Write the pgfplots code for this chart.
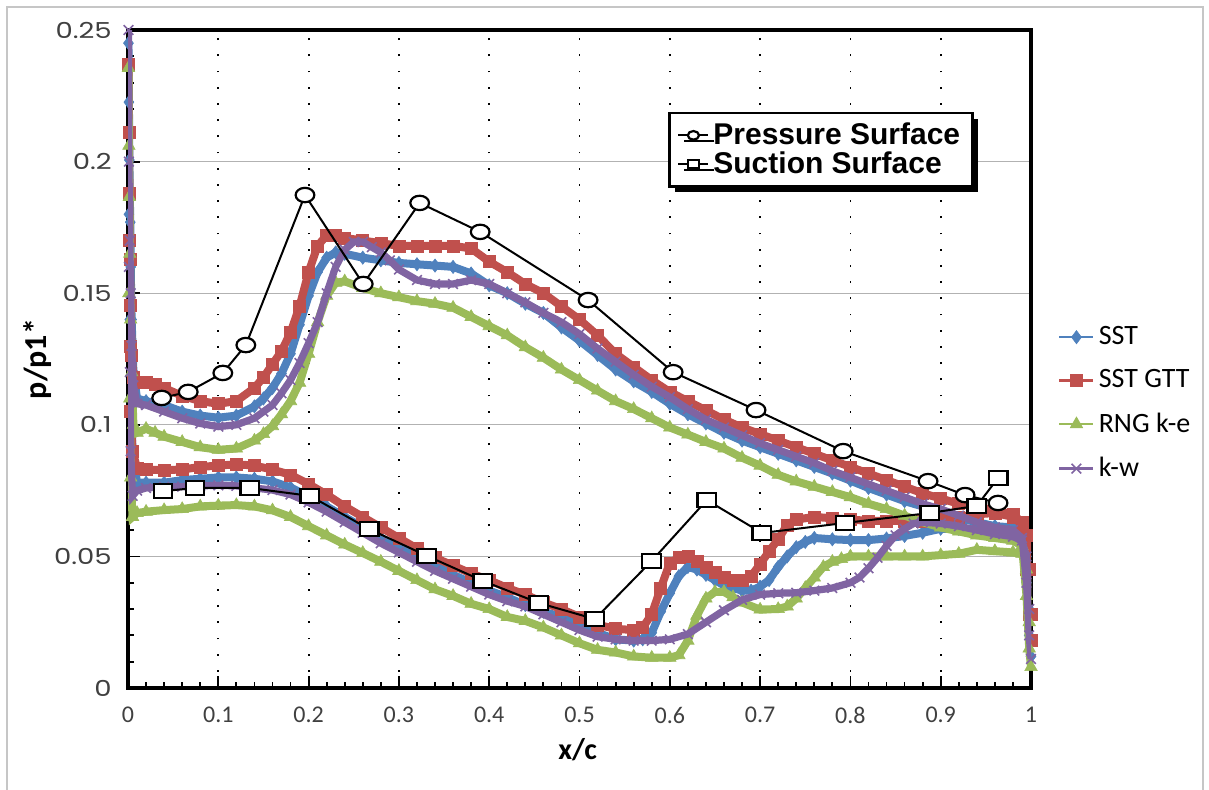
\documentclass[border=0pt]{standalone}
\usepackage{fontspec}
\setmainfont{Carlito}
\newfontfamily\helv{Liberation Sans}
\newfontfamily\poppins{Poppins}
\usepackage{pgfplots}
\pgfplotsset{compat=1.18}
\usetikzlibrary{shadows}
\definecolor{cSST}{HTML}{4F81BD}
\definecolor{cGTT}{HTML}{C0504D}
\definecolor{cRNG}{HTML}{9BBB59}
\definecolor{cKW}{HTML}{8064A2}
\begin{document}
\begin{tikzpicture}
\useasboundingbox (0pt,0pt) rectangle (604.5pt,394.5pt);
\draw[gray!45, line width=0.8pt] (3.5pt,-10pt) -- (3.5pt,391pt) -- (601.5pt,391pt) -- (601.5pt,-10pt);
\begin{axis}[
  at={(64pt,50.5pt)}, anchor=south west, scale only axis,
  width=451.5pt, height=329pt,
  xmin=0, xmax=1, ymin=0, ymax=0.25,
  xtick={0,0.1,0.2,0.3,0.4,0.5,0.6,0.7,0.8,0.9,1},
  xticklabels={0,0.1,0.2,0.3,0.4,0.5,0.6,0.7,0.8,0.9,1},
  ytick={0,0.05,0.1,0.15,0.2,0.25},
  yticklabels={0,0.05,0.1,0.15,0.2,0.25},
  minor x tick num=4, minor y tick num=4,
  xtick pos=bottom, ytick pos=left,
  tick align=inside,
  major tick length=6pt, minor tick length=3pt,
  tick style={black, line width=0.9pt},
  xmajorgrids, ymajorgrids,
  x grid style={black, line width=0.9pt, dash pattern=on 0.9pt off 7.2pt},
  y grid style={gray!60, line width=0.6pt},
  axis line style={black, line width=1.6pt},
  xticklabel style={font=\fontsize{12}{12}\selectfont, text=black!75, yshift=-6pt},
  yticklabel style={font=\poppins\fontsize{11}{11}\selectfont, text=black!75, xscale=1.25, xshift=-3pt},
  xlabel={\textbf{x/c}}, ylabel={\textbf{p/p1*}},
  xlabel style={at={(axis description cs:0.498,-0.094)}, anchor=center, font=\fontsize{15}{15}\selectfont},
  ylabel style={at={(axis description cs:-0.0997,0.5)}, anchor=center, font=\fontsize{16}{16}\selectfont},
  clip mode=individual,
  legend style={at={(1.023,0.562)}, anchor=north west, draw=none, fill=none,
    font=\fontsize{14}{14}\selectfont, row sep=7pt, cells={anchor=west}},
  legend image code/.code={\draw[mark repeat=2,mark phase=2,#1,line width=1.3pt] plot coordinates {(0pt,0pt)(8.5pt,0pt)(17pt,0pt)};},
]
% SST
\addplot[cSST, line width=4pt, mark=diamond*, mark size=3.3pt, mark options={solid, fill=cSST, line width=0.3pt}] coordinates {
(0.0005,0.245)(0.001,0.2226)(0.0015,0.2006)(0.002,0.187)(0.0025,0.177)(0.003,0.16)(0.004,0.14)(0.006,0.12)(0.01,0.110)(0.02,0.109)(0.04,0.1075)(0.06,0.105)(0.08,0.1035)(0.10,0.1027)(0.12,0.1035)(0.14,0.107)(0.15,0.110)(0.16,0.114)(0.17,0.1195)(0.18,0.127)(0.19,0.138)(0.20,0.149)(0.21,0.158)(0.22,0.1635)(0.23,0.1655)(0.24,0.165)(0.26,0.1635)(0.28,0.1625)(0.30,0.1615)(0.32,0.161)(0.34,0.1605)(0.36,0.160)(0.38,0.1575)(0.40,0.153)(0.42,0.150)(0.44,0.146)(0.46,0.1425)(0.48,0.137)(0.50,0.132)(0.52,0.1265)(0.54,0.121)(0.56,0.1165)(0.58,0.1125)(0.60,0.108)(0.62,0.104)(0.64,0.1005)(0.66,0.097)(0.68,0.094)(0.70,0.0915)(0.72,0.089)(0.74,0.0865)(0.76,0.084)(0.78,0.0815)(0.80,0.0788)(0.82,0.076)(0.84,0.0735)(0.86,0.071)(0.88,0.069)(0.90,0.067)(0.92,0.0645)(0.94,0.063)(0.96,0.0615)(0.98,0.061)(0.99,0.058)(0.995,0.04)(0.998,0.02)(1.0,0.012)
(0.998,0.03)(0.995,0.05)(0.99,0.057)(0.98,0.058)(0.96,0.059)(0.94,0.060)(0.92,0.0605)(0.90,0.0605)(0.88,0.059)(0.86,0.0578)(0.84,0.0568)(0.82,0.0562)(0.80,0.0562)(0.78,0.0565)(0.76,0.057)(0.75,0.0555)(0.74,0.0535)(0.73,0.050)(0.72,0.046)(0.71,0.041)(0.70,0.0385)(0.69,0.037)(0.68,0.037)(0.67,0.038)(0.66,0.039)(0.65,0.041)(0.64,0.043)(0.63,0.045)(0.62,0.046)(0.61,0.0425)(0.60,0.036)(0.59,0.029)(0.58,0.021)(0.57,0.0185)(0.56,0.018)(0.54,0.0185)(0.52,0.021)(0.50,0.0235)(0.48,0.027)(0.46,0.029)(0.44,0.0315)(0.42,0.0345)(0.40,0.037)(0.38,0.040)(0.36,0.043)(0.34,0.0465)(0.32,0.050)(0.30,0.0535)(0.28,0.057)(0.26,0.061)(0.24,0.065)(0.22,0.069)(0.20,0.0728)(0.18,0.0762)(0.16,0.0785)(0.14,0.0795)(0.12,0.080)(0.10,0.080)(0.08,0.0795)(0.06,0.079)(0.04,0.078)(0.02,0.078)(0.01,0.078)(0.005,0.09)(0.003,0.11)(0.002,0.14)(0.001,0.18)
};
\addlegendentry{SST}
% SST GTT
\addplot[cGTT, line width=4pt, mark=square*, mark size=3pt, mark options={solid, fill=cGTT, line width=0.3pt}] coordinates {
(0.0005,0.237)(0.001,0.211)(0.0015,0.188)(0.002,0.163)(0.003,0.1455)(0.004,0.1265)(0.006,0.118)(0.01,0.116)(0.02,0.116)(0.03,0.1155)(0.04,0.114)(0.06,0.111)(0.08,0.109)(0.10,0.108)(0.12,0.109)(0.14,0.114)(0.15,0.118)(0.16,0.123)(0.17,0.128)(0.18,0.135)(0.19,0.145)(0.20,0.158)(0.21,0.168)(0.22,0.172)(0.23,0.172)(0.24,0.171)(0.26,0.170)(0.28,0.169)(0.30,0.168)(0.32,0.168)(0.34,0.168)(0.36,0.168)(0.38,0.167)(0.40,0.162)(0.42,0.158)(0.44,0.1535)(0.46,0.150)(0.48,0.145)(0.50,0.140)(0.52,0.134)(0.54,0.127)(0.56,0.122)(0.58,0.117)(0.60,0.1125)(0.62,0.109)(0.64,0.1055)(0.66,0.102)(0.68,0.099)(0.70,0.0965)(0.72,0.094)(0.74,0.0915)(0.76,0.089)(0.78,0.0865)(0.80,0.084)(0.82,0.0815)(0.84,0.079)(0.86,0.0765)(0.88,0.074)(0.90,0.072)(0.92,0.070)(0.94,0.069)(0.96,0.0675)(0.98,0.066)(0.99,0.063)(0.995,0.045)(0.998,0.028)(1.0,0.018)
(1.0,0.028)(0.998,0.045)(0.995,0.058)(0.99,0.062)(0.98,0.065)(0.96,0.0665)(0.94,0.066)(0.92,0.065)(0.90,0.064)(0.88,0.0635)(0.86,0.0635)(0.84,0.0635)(0.82,0.0635)(0.80,0.064)(0.78,0.0645)(0.76,0.065)(0.74,0.064)(0.73,0.062)(0.72,0.0565)(0.71,0.052)(0.70,0.047)(0.69,0.0425)(0.68,0.041)(0.67,0.041)(0.66,0.042)(0.65,0.044)(0.64,0.046)(0.63,0.048)(0.62,0.050)(0.61,0.0495)(0.60,0.0475)(0.59,0.038)(0.58,0.028)(0.57,0.023)(0.56,0.022)(0.54,0.0225)(0.52,0.024)(0.50,0.027)(0.48,0.030)(0.46,0.0325)(0.44,0.0355)(0.42,0.038)(0.40,0.041)(0.38,0.0435)(0.36,0.0465)(0.34,0.0495)(0.32,0.053)(0.30,0.057)(0.28,0.061)(0.26,0.065)(0.24,0.069)(0.22,0.0735)(0.20,0.0775)(0.18,0.081)(0.16,0.083)(0.14,0.0845)(0.12,0.085)(0.10,0.0845)(0.08,0.084)(0.06,0.083)(0.04,0.0828)(0.02,0.083)(0.01,0.0835)(0.005,0.09)(0.003,0.105)(0.002,0.13)(0.001,0.17)
};
\addlegendentry{SST GTT}
% RNG k-e
\addplot[cRNG, line width=4pt, mark=triangle*, mark size=3.6pt, mark options={solid, fill=cRNG, line width=0.3pt}] coordinates {
(0.0005,0.2356)(0.001,0.206)(0.0015,0.1866)(0.002,0.165)(0.003,0.14)(0.004,0.12)(0.006,0.10)(0.01,0.097)(0.02,0.0985)(0.03,0.097)(0.04,0.0955)(0.06,0.0935)(0.08,0.0915)(0.10,0.0905)(0.12,0.091)(0.14,0.094)(0.15,0.0965)(0.16,0.0995)(0.17,0.104)(0.18,0.109)(0.19,0.116)(0.20,0.127)(0.21,0.139)(0.22,0.149)(0.23,0.154)(0.24,0.1545)(0.26,0.152)(0.28,0.150)(0.30,0.1485)(0.32,0.147)(0.34,0.146)(0.36,0.1445)(0.38,0.141)(0.40,0.1375)(0.42,0.134)(0.44,0.1295)(0.46,0.1255)(0.48,0.121)(0.50,0.117)(0.52,0.113)(0.54,0.109)(0.56,0.106)(0.58,0.1025)(0.60,0.099)(0.62,0.0963)(0.64,0.0935)(0.66,0.091)(0.68,0.0875)(0.70,0.0845)(0.72,0.081)(0.74,0.0785)(0.76,0.0765)(0.78,0.0745)(0.80,0.0725)(0.82,0.070)(0.84,0.068)(0.86,0.0655)(0.88,0.063)(0.90,0.061)(0.92,0.0595)(0.94,0.058)(0.96,0.057)(0.98,0.056)(0.99,0.054)(0.995,0.035)(0.998,0.015)(1.0,0.008)
(0.998,0.025)(0.995,0.045)(0.99,0.051)(0.98,0.0515)(0.96,0.052)(0.94,0.0525)(0.92,0.051)(0.90,0.0505)(0.88,0.050)(0.86,0.050)(0.84,0.050)(0.82,0.050)(0.80,0.050)(0.79,0.049)(0.78,0.048)(0.77,0.046)(0.76,0.042)(0.75,0.038)(0.74,0.034)(0.73,0.031)(0.72,0.030)(0.70,0.0298)(0.68,0.0325)(0.67,0.0345)(0.66,0.0365)(0.65,0.0365)(0.64,0.034)(0.63,0.0275)(0.62,0.018)(0.61,0.0125)(0.60,0.0115)(0.58,0.0115)(0.56,0.012)(0.54,0.0135)(0.52,0.0145)(0.50,0.017)(0.48,0.020)(0.46,0.023)(0.44,0.0255)(0.42,0.027)(0.40,0.030)(0.38,0.032)(0.36,0.035)(0.34,0.0375)(0.32,0.041)(0.30,0.0445)(0.28,0.048)(0.26,0.0513)(0.24,0.0545)(0.22,0.058)(0.20,0.0615)(0.18,0.065)(0.16,0.0675)(0.14,0.069)(0.12,0.0695)(0.10,0.0693)(0.08,0.069)(0.06,0.068)(0.04,0.0676)(0.02,0.067)(0.01,0.0665)(0.005,0.065)(0.003,0.08)(0.002,0.11)(0.001,0.15)
};
\addlegendentry{RNG k-e}
% k-w
\addplot[cKW, line width=3.6pt, mark=x, mark size=3.4pt, mark options={solid, line width=0.8pt}] coordinates {
(0.0005,0.25)(0.001,0.2)(0.002,0.17)(0.003,0.15)(0.004,0.13)(0.006,0.115)(0.01,0.108)(0.02,0.1075)(0.04,0.105)(0.06,0.1025)(0.08,0.1005)(0.10,0.0993)(0.12,0.100)(0.14,0.1025)(0.15,0.105)(0.16,0.1075)(0.17,0.112)(0.18,0.117)(0.19,0.1235)(0.20,0.131)(0.21,0.139)(0.22,0.150)(0.23,0.160)(0.24,0.1665)(0.25,0.1695)(0.26,0.1695)(0.27,0.1675)(0.28,0.1655)(0.29,0.1625)(0.30,0.159)(0.32,0.155)(0.34,0.1535)(0.36,0.1535)(0.38,0.155)(0.40,0.1535)(0.42,0.150)(0.44,0.1465)(0.46,0.1425)(0.48,0.139)(0.50,0.1345)(0.52,0.129)(0.54,0.124)(0.56,0.119)(0.58,0.1145)(0.60,0.1105)(0.62,0.106)(0.64,0.102)(0.66,0.099)(0.68,0.096)(0.70,0.093)(0.72,0.0905)(0.74,0.088)(0.76,0.0855)(0.78,0.0825)(0.80,0.080)(0.82,0.0775)(0.84,0.075)(0.86,0.0725)(0.88,0.070)(0.90,0.068)(0.92,0.0655)(0.94,0.063)(0.96,0.061)(0.98,0.060)(0.99,0.057)(0.995,0.04)(0.998,0.02)(1.0,0.011)
(0.998,0.03)(0.995,0.05)(0.99,0.056)(0.98,0.0575)(0.96,0.0585)(0.94,0.060)(0.92,0.0615)(0.90,0.0625)(0.88,0.063)(0.87,0.0625)(0.86,0.0605)(0.85,0.058)(0.84,0.054)(0.83,0.0495)(0.82,0.0455)(0.81,0.042)(0.80,0.040)(0.78,0.038)(0.76,0.037)(0.74,0.0362)(0.72,0.036)(0.70,0.0355)(0.68,0.0335)(0.66,0.0295)(0.64,0.025)(0.62,0.0205)(0.60,0.0185)(0.58,0.018)(0.56,0.018)(0.54,0.0185)(0.52,0.0195)(0.50,0.022)(0.48,0.025)(0.46,0.028)(0.44,0.031)(0.42,0.033)(0.40,0.0355)(0.38,0.0385)(0.36,0.0415)(0.34,0.0445)(0.32,0.048)(0.30,0.0515)(0.28,0.055)(0.26,0.059)(0.24,0.063)(0.22,0.067)(0.20,0.0705)(0.18,0.0735)(0.16,0.0752)(0.14,0.076)(0.12,0.0768)(0.10,0.077)(0.08,0.0768)(0.06,0.0765)(0.04,0.0764)(0.02,0.076)(0.01,0.075)(0.005,0.073)(0.003,0.09)(0.002,0.12)(0.001,0.16)
};
\addlegendentry{k-w}
\end{axis}
\begin{axis}[
  at={(64pt,50.5pt)}, anchor=south west, scale only axis,
  width=451.5pt, height=329pt,
  xmin=0, xmax=1, ymin=0, ymax=0.25,
  hide axis, clip mode=individual,
  legend style={at={(0.598,0.876)}, anchor=north west, draw=black, line width=1.4pt, fill=white,
    drop shadow={shadow xshift=3pt, shadow yshift=-3pt, fill=black, opacity=1},
    font=\helv\bfseries\fontsize{15}{15}\selectfont, row sep=-2pt, inner xsep=4pt, inner ysep=3pt,
    cells={anchor=west}},
  legend image code/.code={\draw[mark repeat=2,mark phase=2,#1,every mark/.append style={scale=0.6}] plot coordinates {(0pt,0pt)(7.5pt,0pt)(15pt,0pt)};},
]
\addplot[black, line width=1pt, mark=*, mark size=3.6pt, mark options={solid, fill=white, draw=black, line width=1.1pt, xscale=1.3}] coordinates {
(0.0373,0.1102)(0.0667,0.1125)(0.105,0.1197)(0.1305,0.1303)(0.196,0.1873)(0.2605,0.1535)(0.323,0.1843)(0.390,0.1733)(0.5095,0.1474)(0.6037,0.120)(0.6955,0.1056)(0.792,0.090)(0.886,0.0786)(0.927,0.0733)(0.9635,0.0703)
};
\addlegendentry{Pressure Surface}
\addplot[black, line width=1pt, mark=square*, mark size=3.6pt, mark options={solid, fill=white, draw=black, line width=1.1pt, xscale=1.3}] coordinates {
(0.0388,0.0748)(0.0742,0.076)(0.135,0.076)(0.2015,0.073)(0.267,0.0604)(0.331,0.0502)(0.393,0.0407)(0.455,0.0323)(0.517,0.0262)(0.580,0.0483)(0.641,0.0714)(0.702,0.0589)(0.794,0.0627)(0.888,0.0665)(0.940,0.0692)(0.9635,0.0798)
};
\addlegendentry{Suction Surface}
\end{axis}
\end{tikzpicture}
\end{document}
